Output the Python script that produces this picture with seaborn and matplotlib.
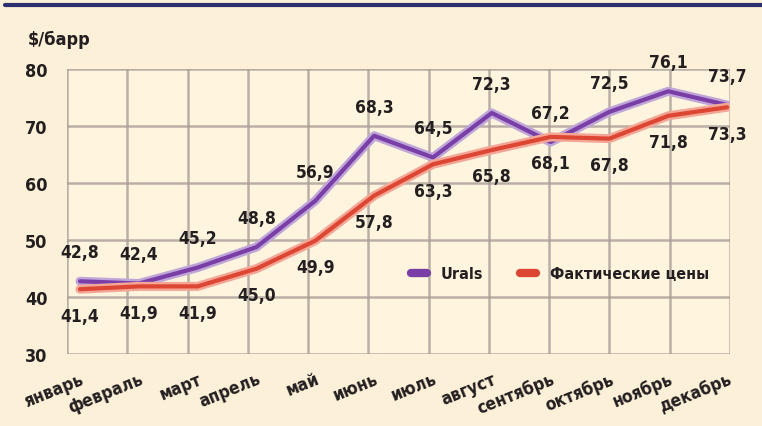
import numpy as np
import pandas as pd
import seaborn as sns
import matplotlib.pyplot as plt
import matplotlib.patheffects as pe
import matplotlib.transforms as mtrans

# Data
months = ['январь', 'февраль', 'март', 'апрель', 'май', 'июнь',
          'июль', 'август', 'сентябрь', 'октябрь', 'ноябрь', 'декабрь']
urals = [42.8, 42.4, 45.2, 48.8, 56.9, 68.3, 64.5, 72.3, 67.2, 72.5, 76.1, 73.7]
actual = [41.4, 41.9, 41.9, 45.0, 49.9, 57.8, 63.3, 65.8, 68.1, 67.8, 71.8, 73.3]
yticks = [30, 40, 50, 60, 70, 80]

df = pd.DataFrame({'month': np.arange(len(months)), 'Urals': urals,
                   'Фактические цены': actual})
long = df.melt(id_vars='month', var_name='series', value_name='price')

sns.set_style('white')
plt.rcParams['font.family'] = ['DejaVu Sans']
plt.rcParams['font.stretch'] = 'condensed'
plt.rcParams['font.weight'] = 'bold'

bg = '#FDF0D8'
txt = '#231F20'
purple = '#7A3FA6'
red = '#DC4632'

fig = plt.figure(figsize=(7.62, 4.27), dpi=100, facecolor=bg)
ax = fig.add_axes([0.088, 0.168, 0.87, 0.668])
ax.set_facecolor('#FFF5DF')

sns.lineplot(data=long, x='month', y='price', hue='series',
             palette={'Urals': purple, 'Фактические цены': red},
             linewidth=3, ax=ax, legend=False, zorder=3)

halo = {purple: '#BFA5D8', red: '#F3A696'}
for line in ax.get_lines():
    c = line.get_color()
    line.set_path_effects([pe.Stroke(linewidth=6.5, foreground=halo[c]), pe.Normal()])

# value labels
for i, v in enumerate(urals):
    ax.annotate(f'{v:.1f}'.replace('.', ','), (i, v), xytext=(0, 21),
                textcoords='offset points', ha='center', va='center',
                fontsize=12.5, color=txt, fontweight='bold')
for i, v in enumerate(actual):
    ax.annotate(f'{v:.1f}'.replace('.', ','), (i, v), xytext=(0, -19),
                textcoords='offset points', ha='center', va='center',
                fontsize=12.5, color=txt, fontweight='bold')

ax.set_ylim(30, 80)
ax.set_xlim(-0.22, 11.05)
ax.set_yticks(yticks)
ax.set_yticklabels([str(t) for t in yticks], fontsize=13, color=txt, fontweight='bold')
ax.set_xticks(np.arange(len(months)))
ax.set_xticklabels(months, rotation=22, ha='right', rotation_mode='anchor',
                   fontsize=12.5, color=txt, fontweight='bold')
shift = mtrans.ScaledTranslation(10 / 100, 0, fig.dpi_scale_trans)
for lbl in ax.get_xticklabels():
    lbl.set_transform(lbl.get_transform() + shift)
ax.tick_params(axis='both', length=0)
ax.tick_params(axis='y', pad=14)
ax.tick_params(axis='x', pad=11)

# grid
ax.set_xticks(np.linspace(-0.22, 11.05, 12), minor=True)
ax.grid(False)
ax.grid(True, which='minor', axis='x', color='#A89E96', linewidth=1.8, alpha=0.8)
ax.grid(True, which='major', axis='y', color='#A89E96', linewidth=1.8, alpha=0.8)
ax.set_axisbelow(True)
for s in ax.spines.values():
    s.set_visible(False)
ax.set_xlabel('')
ax.set_ylabel('')

fig.text(0.037, 0.895, '$/барр', fontsize=13, color=txt, fontweight='bold')

# top rule
fig.add_artist(plt.Line2D([0.007, 1.0], [0.987, 0.987], color='#2B2F6E', linewidth=3))

handles = [plt.Line2D([], [], color=purple, linewidth=6),
           plt.Line2D([], [], color=red, linewidth=6)]
fig.legend(handles, ['Urals', 'Фактические цены'], loc='center left',
           bbox_to_anchor=(0.52, 0.356), ncol=2, frameon=False, handlelength=1.0,
           columnspacing=2.3, handletextpad=0.9, prop={'size': 11.5, 'weight': 'bold',
                                                       'stretch': 'condensed'},
           labelcolor=txt)

fig.savefig('out.png', dpi=100, facecolor=bg)
